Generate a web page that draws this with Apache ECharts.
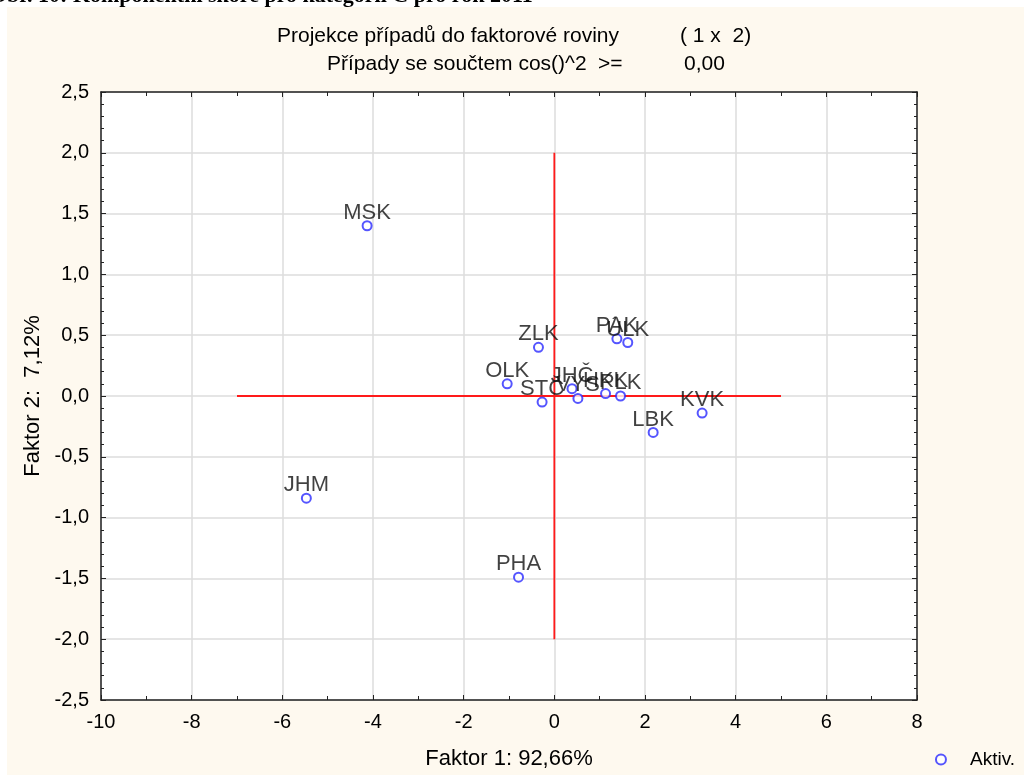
<!DOCTYPE html>
<html>
<head>
<meta charset="utf-8">
<script src="https://cdn.jsdelivr.net/npm/echarts@6/dist/echarts.min.js"></script>
<style>
html,body{margin:0;padding:0;background:#ffffff;}
#chart{width:1024px;height:775px;}
</style>
</head>
<body>
<div id="chart"></div>
<script>
// ---- data ----
const caseLabels = ['MSK','JHM','PHA','ZLK','OLK','STČ','JHČ','VYS','HKK','PLK','PAK','ÚLK','KVK','LBK'];
const factor1 = [-4.13,-5.47,-0.79,-0.35,-1.04,-0.27,0.39,0.52,1.13,1.46,1.38,1.62,3.26,2.18];
const factor2 = [1.40,-0.84,-1.49,0.40,0.10,-0.05,0.06,-0.02,0.02,0.00,0.47,0.44,-0.14,-0.30];
const hLineX = [-7, 5];
const hLineY = [0, 0];
const vLineX = [0, 0];
const vLineY = [2, -2];
const yTicks = ['-2,5','-2,0','-1,5','-1,0','-0,5','0,0','0,5','1,0','1,5','2,0','2,5'];
const title1a = 'Projekce případů do faktorové roviny';
const title1b = '( 1 x  2)';
const title2a = 'Případy se součtem cos()^2';
const title2b = '>=';
const title2c = '0,00';
const xName = 'Faktor 1: 92,66%';
const yName = 'Faktor 2:  7,12%';
const legendName = 'Aktiv.';
const captionText = 'Obr. 10: Komponentní skóre pro kategorii C pro rok 2011';

const points = caseLabels.map((n, i) => ({ name: n, value: [factor1[i], factor2[i]] }));
const hLine = hLineX.map((x, i) => [x, hLineY[i]]);
const vLine = vLineX.map((x, i) => [x, vLineY[i]]);

const FONT = '"Liberation Sans", Arial, sans-serif';
const chart = echarts.init(document.getElementById('chart'), null, { renderer: 'canvas' });

const fmtY = v => {
  const s = v.toFixed(1).replace('.', ',');
  return s === '-0,0' ? '0,0' : s;
};

const baseAxisLine = { show: true, onZero: false, lineStyle: { color: '#222', width: 1.5 } };
const tFont = '21px ' + FONT;

chart.setOption({
  backgroundColor: '#ffffff',
  animation: false,
  graphic: [
    { type: 'rect', z: -10, shape: { x: 7, y: 7, width: 1017, height: 768 }, style: { fill: '#fef9ef' } },
    { type: 'rect', z: -9, shape: { x: 101, y: 92, width: 816, height: 608 }, style: { fill: '#ffffff' } },
    { type: 'text', z: 5, left: -10, top: -15, style: { text: captionText, font: 'bold 22px "Liberation Serif", serif', fill: '#000' } },
    { type: 'text', z: 5, left: 277, top: 26, style: { text: title1a, font: tFont, fill: '#000' } },
    { type: 'text', z: 5, left: 680, top: 26, style: { text: title1b, font: tFont, fill: '#000' } },
    { type: 'text', z: 5, left: 327, top: 54, style: { text: title2a, font: tFont, fill: '#000' } },
    { type: 'text', z: 5, left: 598, top: 54, style: { text: title2b, font: tFont, fill: '#000' } },
    { type: 'text', z: 5, left: 684, top: 54, style: { text: title2c, font: tFont, fill: '#000' } }
  ],
  grid: { left: 101, right: 107, top: 92, bottom: 75, show: false },
  legend: {
    right: 4, bottom: 1,
    itemWidth: 10, itemHeight: 10,
    data: [{ name: legendName, icon: 'emptyCircle' }],
    textStyle: { fontFamily: FONT, fontSize: 19, color: '#000', padding: [0, 0, 0, 19] }
  },
  xAxis: [{
    type: 'value', min: -10, max: 8, interval: 2,
    name: xName, nameLocation: 'middle', nameGap: 48,
    nameTextStyle: { fontFamily: FONT, fontSize: 22, color: '#000' },
    axisLine: baseAxisLine,
    axisTick: { show: true, inside: true, length: 5, lineStyle: { color: '#222' } },
    minorTick: { show: true, splitNumber: 2, length: 4, lineStyle: { color: '#222' } },
    axisLabel: { fontFamily: FONT, fontSize: 20, color: '#000', margin: 12 },
    splitLine: { show: true, lineStyle: { color: '#dcdcdc', width: 1.5 } }
  }, {
    type: 'value', min: -10, max: 8, interval: 2, position: 'top',
    axisLine: baseAxisLine,
    axisTick: { show: true, inside: true, length: 5, lineStyle: { color: '#222' } },
    minorTick: { show: true, splitNumber: 2, length: 4, lineStyle: { color: '#222' } },
    axisLabel: { show: false }, splitLine: { show: false }
  }],
  yAxis: [{
    type: 'value', min: -2.5, max: 2.5, interval: 0.5,
    name: yName, nameLocation: 'middle', nameGap: 56, nameRotate: 90,
    nameTextStyle: { fontFamily: FONT, fontSize: 22, color: '#000' },
    axisLine: baseAxisLine,
    axisTick: { show: true, inside: true, length: 5, lineStyle: { color: '#222' } },
    minorTick: { show: true, splitNumber: 5, length: 3, lineStyle: { color: '#222' } },
    axisLabel: { fontFamily: FONT, fontSize: 20, color: '#000', margin: 12, formatter: v => yTicks[Math.round((v + 2.5) / 0.5)] || fmtY(v) },
    splitLine: { show: true, lineStyle: { color: '#dcdcdc', width: 1.5 } }
  }, {
    type: 'value', min: -2.5, max: 2.5, interval: 0.5, position: 'right',
    axisLine: baseAxisLine,
    axisTick: { show: true, inside: true, length: 5, lineStyle: { color: '#222' } },
    minorTick: { show: true, splitNumber: 5, length: 3, lineStyle: { color: '#222' } },
    axisLabel: { show: false }, splitLine: { show: false }
  }],
  series: [
    {
      type: 'line', data: hLine, symbol: 'none', silent: true, z: 2,
      lineStyle: { color: '#ff1a1a', width: 1.8 }
    },
    {
      type: 'line', data: vLine, symbol: 'none', silent: true, z: 2,
      lineStyle: { color: '#ff1a1a', width: 1.8 }
    },
    {
      name: legendName, type: 'scatter', data: points, z: 3,
      symbol: 'emptyCircle', symbolSize: 9,
      itemStyle: { color: '#2a2aff', borderColor: '#2a2aff', borderWidth: 1.4 },
      label: {
        show: true, position: 'inside', offset: [0, -13],
        formatter: p => p.name,
        fontFamily: FONT, fontSize: 22, color: '#111'
      }
    }
  ]
});
</script>
</body>
</html>
